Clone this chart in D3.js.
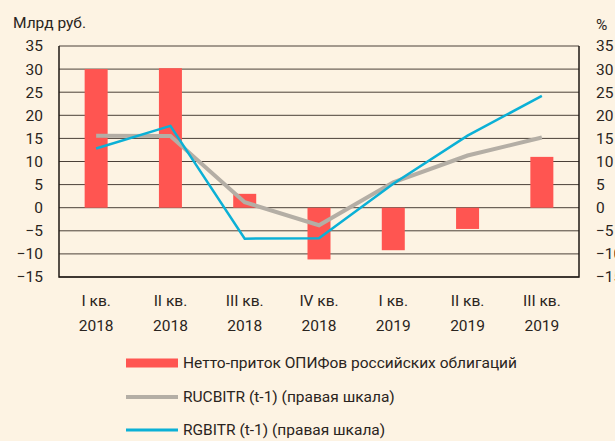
<!DOCTYPE html>
<html>
<head>
<meta charset="utf-8">
<script src="https://cdn.jsdelivr.net/npm/d3@7"></script>
<style>
  html, body { margin: 0; padding: 0; background: #fdf3e3; }
  svg { display: block; font-family: Roboto, "Open Sans", sans-serif; }
</style>
</head>
<body>
<div id="chart"></div>
<script>
var quarters = ["I кв.", "II кв.", "III кв.", "IV кв.", "I кв.", "II кв.", "III кв."];
var years = ["2018", "2018", "2018", "2018", "2019", "2019", "2019"];
var inflow = [30, 30.2, 3, -11.2, -9.2, -4.6, 11];
var rucbitr = [15.6, 15.5, 1.2, -3.8, 5.5, 11.3, 15.2];
var rgbitr = [12.8, 17.7, -6.7, -6.6, 5.2, 15.6, 24.2];
var yTicks = [-15, -10, -5, 0, 5, 10, 15, 20, 25, 30, 35];

var W = 615, H = 441;
var pLeft = 59, pRight = 579, pTop = 46, pBottom = 277;

var svg = d3.select("#chart").append("svg")
    .attr("width", W)
    .attr("height", H);

svg.append("rect").attr("width", W).attr("height", H).attr("fill", "#fdf3e3");

var x = d3.scaleBand().domain(d3.range(quarters.length)).range([pLeft, pRight]);
var y = d3.scaleLinear().domain([-15, 35]).range([pBottom, pTop]);
var y2 = d3.scaleLinear().domain([-15, 35]).range([pBottom, pTop]);

// grid
svg.selectAll("line.grid")
    .data(yTicks)
    .enter().append("line")
    .attr("class", "grid")
    .attr("x1", pLeft).attr("x2", pRight)
    .attr("y1", function(d){ return y(d); })
    .attr("y2", function(d){ return y(d); })
    .attr("stroke", "#4a4038")
    .attr("stroke-width", 1);

// bars
var bw = 23;
svg.selectAll("rect.bar")
    .data(inflow)
    .enter().append("rect")
    .attr("class", "bar")
    .attr("x", function(d, i){ return x(i) + x.bandwidth()/2 - bw/2; })
    .attr("width", bw)
    .attr("y", function(d){ return Math.min(y(d), y(0)); })
    .attr("height", function(d){ return Math.abs(y(d) - y(0)); })
    .attr("fill", "#ff5551");

// frame
svg.append("path")
    .attr("d", "M" + pLeft + "," + pTop + "V" + pBottom + "H" + pRight + "V" + pTop)
    .attr("fill", "none")
    .attr("stroke", "#1e1814")
    .attr("stroke-width", 1.5);

var line = function(sc){
    return d3.line()
        .x(function(d, i){ return x(i) + x.bandwidth()/2; })
        .y(function(d){ return sc(d); });
};

svg.append("path")
    .datum(rucbitr)
    .attr("d", line(y2))
    .attr("fill", "none")
    .attr("stroke", "#b4aea5")
    .attr("stroke-width", 4);

svg.append("path")
    .datum(rgbitr)
    .attr("d", line(y2))
    .attr("fill", "none")
    .attr("stroke", "#0bb0d6")
    .attr("stroke-width", 2.5);

// axes labels
var fs = 15.5, col = "#2a2420";
var leftAxis = d3.axisLeft(y).tickValues(yTicks).tickSize(0).tickPadding(16);
var gl = svg.append("g").attr("transform", "translate(" + pLeft + ",0)").call(leftAxis);
gl.select(".domain").remove();
gl.selectAll("text").attr("font-size", fs).attr("fill", col).attr("font-family", "Roboto");

var rightAxis = d3.axisRight(y2).tickValues(yTicks).tickSize(0).tickPadding(17);
var gr = svg.append("g").attr("transform", "translate(" + pRight + ",0)").call(rightAxis);
gr.select(".domain").remove();
gr.selectAll("text").attr("font-size", fs).attr("fill", col).attr("font-family", "Roboto");

svg.append("text").attr("x", 13).attr("y", 28).attr("font-size", fs).attr("fill", col).text("Млрд руб.");
svg.append("text").attr("x", 596).attr("y", 30).attr("font-size", fs).attr("fill", col).text("%");

var xl = svg.selectAll("g.xl")
    .data(quarters)
    .enter().append("g")
    .attr("class", "xl")
    .attr("transform", function(d, i){ return "translate(" + (x(i) + x.bandwidth()/2) + ",0)"; });
xl.append("text").attr("y", 306).attr("text-anchor", "middle").attr("font-size", fs).attr("fill", col)
    .text(function(d){ return d; });
xl.append("text").attr("y", 331).attr("text-anchor", "middle").attr("font-size", fs).attr("fill", col)
    .text(function(d, i){ return years[i]; });

// legend
var legend = [
    {name: "Нетто-приток ОПИФов российских облигаций", color: "#ff5551", w: 9, y: 363},
    {name: "RUCBITR (t-1) (правая шкала)", color: "#b4aea5", w: 4, y: 397},
    {name: "RGBITR (t-1) (правая шкала)", color: "#0bb0d6", w: 3, y: 430}
];
var lg = svg.selectAll("g.lg").data(legend).enter().append("g").attr("class", "lg");
lg.append("line")
    .attr("x1", 126).attr("x2", 178)
    .attr("y1", function(d){ return d.y; }).attr("y2", function(d){ return d.y; })
    .attr("stroke", function(d){ return d.color; })
    .attr("stroke-width", function(d){ return d.w; });
lg.append("text")
    .attr("x", 183).attr("y", function(d){ return d.y + 5; })
    .attr("font-size", fs).attr("fill", col)
    .text(function(d){ return d.name; });
</script>
</body>
</html>
